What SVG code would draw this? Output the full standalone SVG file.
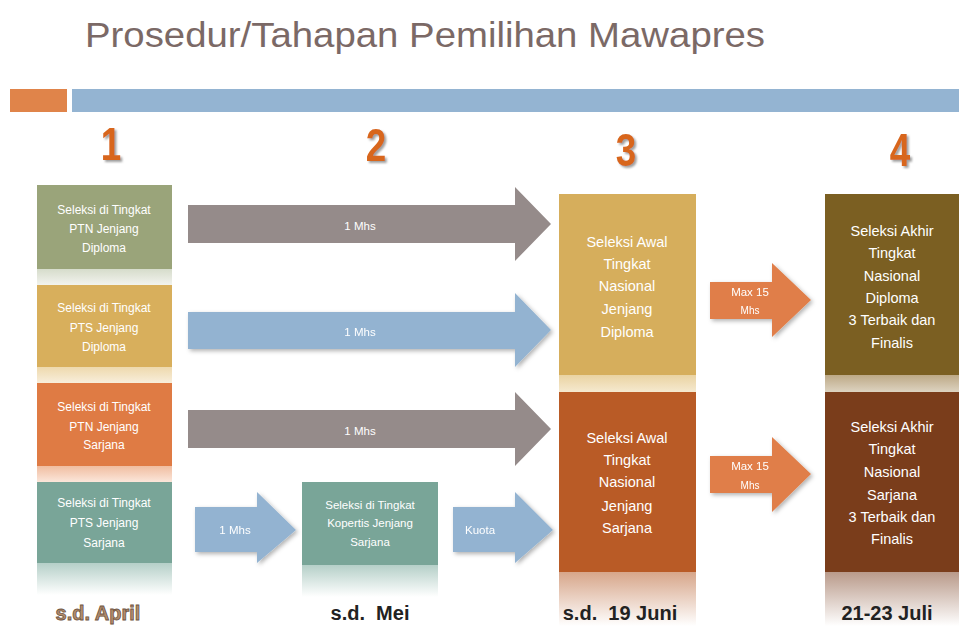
<svg xmlns="http://www.w3.org/2000/svg" width="959" height="626" viewBox="0 0 959 626">
<defs>
<style>
.t{font-family:"Liberation Sans",Arial,sans-serif;fill:#ffffff;text-anchor:middle}
.s{font-size:12px}
.m{font-size:14.5px}
.a{font-size:11.5px}
.num{font-family:"Liberation Sans",Arial,sans-serif;font-weight:bold;font-size:46px;fill:#d8661e;text-anchor:middle}
.date{font-family:"Liberation Sans",Arial,sans-serif;font-weight:bold;font-size:20px;fill:#222;text-anchor:middle}
.gray{fill:#958b8a}
.blue{fill:#93b3d1}
.orng{fill:#e07e48}
</style>
<filter id="sh" x="-10%" y="-10%" width="130%" height="140%">
<feDropShadow dx="2" dy="2" stdDeviation="2" flood-color="#000" flood-opacity="0.3"/>
</filter>
<filter id="ns" x="-20%" y="-20%" width="150%" height="150%">
<feDropShadow dx="2" dy="2" stdDeviation="1" flood-color="#777" flood-opacity="0.7"/>
</filter>
<linearGradient id="rTeal" x1="0" y1="0" x2="0" y2="1"><stop offset="0" stop-color="#b5cfc8"/><stop offset="1" stop-color="#ffffff"/></linearGradient>
<linearGradient id="rRust" x1="0" y1="0" x2="0" y2="1"><stop offset="0" stop-color="#d7a68a"/><stop offset="1" stop-color="#ffffff"/></linearGradient>
<linearGradient id="rBrown" x1="0" y1="0" x2="0" y2="1"><stop offset="0" stop-color="#b99a8a"/><stop offset="1" stop-color="#ffffff"/></linearGradient>
<linearGradient id="sGreen" x1="0" y1="0" x2="0" y2="1"><stop offset="0" stop-color="#d6dccb"/><stop offset="1" stop-color="#f2f3ee"/></linearGradient>
<linearGradient id="sGold" x1="0" y1="0" x2="0" y2="1"><stop offset="0" stop-color="#eed9ad"/><stop offset="1" stop-color="#f8eedb"/></linearGradient>
<linearGradient id="sOrange" x1="0" y1="0" x2="0" y2="1"><stop offset="0" stop-color="#f0bda0"/><stop offset="1" stop-color="#fbe6da"/></linearGradient>
<linearGradient id="sGold3" x1="0" y1="0" x2="0" y2="1"><stop offset="0" stop-color="#ead3a2"/><stop offset="1" stop-color="#f5e9cf"/></linearGradient>
<linearGradient id="sOlive" x1="0" y1="0" x2="0" y2="1"><stop offset="0" stop-color="#bda986"/><stop offset="1" stop-color="#ddd3c1"/></linearGradient>
</defs>
<rect width="959" height="626" fill="#ffffff"/>

<text x="85" y="47" font-family="'Liberation Sans',Arial,sans-serif" font-size="35" fill="#7b6966" textLength="680" lengthAdjust="spacingAndGlyphs">Prosedur/Tahapan Pemilihan Mawapres</text>
<rect x="10" y="89" width="57" height="23" fill="#e0844a"/>
<rect x="72" y="89" width="887" height="23" fill="#94b4d2"/>

<g filter="url(#ns)">
<text class="num" transform="translate(111,160) scale(0.8,1)">1</text>
<text class="num" transform="translate(376,161) scale(0.8,1)">2</text>
<text class="num" transform="translate(626,166) scale(0.8,1)">3</text>
<text class="num" transform="translate(900,166) scale(0.8,1)">4</text>
</g>

<g id="connectors">
<g id="arrow-ptn-diploma">
<polygon class="gray" points="188,205 515,205 515,187 551,224 515,261 515,243 188,243"/>
<text class="t a" x="360" y="230">1 Mhs</text>
</g>
<g id="arrow-pts-diploma" filter="url(#sh)">
<polygon class="blue" points="188,312 515,312 515,293 551,330 515,367 515,349 188,349"/>
<text class="t a" x="360" y="336">1 Mhs</text>
</g>
<g id="arrow-ptn-sarjana">
<polygon class="gray" points="188,410 515,410 515,392 551,429 515,466 515,448 188,448"/>
<text class="t a" x="360" y="435">1 Mhs</text>
</g>
<g id="arrow-pts-kopertis" filter="url(#sh)">
<polygon class="blue" points="195,507 257,507 257,492 296,530 257,563 257,552 195,552"/>
<text class="t a" x="235" y="534">1 Mhs</text>
</g>
<g id="arrow-kuota" filter="url(#sh)">
<polygon class="blue" points="453,507 515,507 515,492 553,530 515,563 515,552 453,552"/>
<text class="t a" x="480" y="534">Kuota</text>
</g>
<g id="arrow-max-diploma" filter="url(#sh)">
<polygon class="orng" points="710,282 772,282 772,263 811,300 772,337 772,319 710,319"/>
<text class="t a" x="750" y="296">Max 15</text>
<text class="t" x="750" y="314" font-size="10">Mhs</text>
</g>
<g id="arrow-max-sarjana" filter="url(#sh)">
<polygon class="orng" points="710,456 772,456 772,437 811,474 772,512 772,493 710,493"/>
<text class="t a" x="750" y="470">Max 15</text>
<text class="t" x="750" y="489" font-size="10">Mhs</text>
</g>
</g>

<g id="node-ptn-diploma">
<rect x="37" y="185" width="135" height="84" fill="#9aa47a"/>
<rect x="37" y="269" width="135" height="16" fill="url(#sGreen)"/>
<text class="t s" x="104" y="214">Seleksi di Tingkat</text>
<text class="t s" x="104" y="233">PTN Jenjang</text>
<text class="t s" x="104" y="252">Diploma</text>
</g>
<g id="node-pts-diploma">
<rect x="37" y="285" width="135" height="82" fill="#d8af5c"/>
<rect x="37" y="367" width="135" height="16" fill="url(#sGold)"/>
<text class="t s" x="104" y="312">Seleksi di Tingkat</text>
<text class="t s" x="104" y="332">PTS Jenjang</text>
<text class="t s" x="104" y="351">Diploma</text>
</g>
<g id="node-ptn-sarjana">
<rect x="37" y="383" width="135" height="83" fill="#df7b44"/>
<rect x="37" y="466" width="135" height="16" fill="url(#sOrange)"/>
<text class="t s" x="104" y="411">Seleksi di Tingkat</text>
<text class="t s" x="104" y="431">PTN Jenjang</text>
<text class="t s" x="104" y="449">Sarjana</text>
</g>
<g id="node-pts-sarjana">
<rect x="37" y="482" width="135" height="81" fill="#79a598"/>
<rect x="37" y="563" width="135" height="32" fill="url(#rTeal)"/>
<text class="t s" x="104" y="507">Seleksi di Tingkat</text>
<text class="t s" x="104" y="527">PTS Jenjang</text>
<text class="t s" x="104" y="547">Sarjana</text>
</g>
<g id="node-kopertis">
<rect x="302" y="482" width="136" height="83" fill="#79a598"/>
<rect x="302" y="565" width="136" height="32" fill="url(#rTeal)"/>
<text class="t" font-size="11.5" x="370" y="509">Seleksi di Tingkat</text>
<text class="t" font-size="11.5" x="370" y="527">Kopertis Jenjang</text>
<text class="t" font-size="11.5" x="370" y="546">Sarjana</text>
</g>
<g id="node-awal-diploma">
<rect x="559" y="194" width="137" height="181" fill="#d6ae5c"/>
<rect x="559" y="375" width="137" height="17" fill="url(#sGold3)"/>
<text class="t m" x="627" y="247">Seleksi Awal</text>
<text class="t m" x="627" y="269">Tingkat</text>
<text class="t m" x="627" y="291">Nasional</text>
<text class="t m" x="627" y="314">Jenjang</text>
<text class="t m" x="627" y="337">Diploma</text>
</g>
<g id="node-awal-sarjana">
<rect x="559" y="392" width="137" height="180" fill="#b95b26"/>
<rect x="559" y="572" width="137" height="54" fill="url(#rRust)"/>
<text class="t m" x="627" y="443">Seleksi Awal</text>
<text class="t m" x="627" y="465">Tingkat</text>
<text class="t m" x="627" y="487">Nasional</text>
<text class="t m" x="627" y="511">Jenjang</text>
<text class="t m" x="627" y="533">Sarjana</text>
</g>
<g id="node-akhir-diploma">
<rect x="825" y="194" width="134" height="181" fill="#7b5f22"/>
<rect x="825" y="375" width="134" height="17" fill="url(#sOlive)"/>
<text class="t m" x="892" y="236">Seleksi Akhir</text>
<text class="t m" x="892" y="258">Tingkat</text>
<text class="t m" x="892" y="281">Nasional</text>
<text class="t m" x="892" y="303">Diploma</text>
<text class="t m" x="892" y="325">3 Terbaik dan</text>
<text class="t m" x="892" y="348">Finalis</text>
</g>
<g id="node-akhir-sarjana">
<rect x="825" y="392" width="134" height="180" fill="#7a3d1b"/>
<rect x="825" y="572" width="134" height="54" fill="url(#rBrown)"/>
<text class="t m" x="892" y="432">Seleksi Akhir</text>
<text class="t m" x="892" y="454">Tingkat</text>
<text class="t m" x="892" y="477">Nasional</text>
<text class="t m" x="892" y="500">Sarjana</text>
<text class="t m" x="892" y="522">3 Terbaik dan</text>
<text class="t m" x="892" y="544">Finalis</text>
</g>

<g id="dates">
<text class="date" x="98" y="620" stroke="#6e5442" stroke-width="0.8" style="fill:#b38d6c">s.d. April</text>
<text class="date" x="370" y="620" xml:space="preserve">s.d.  Mei</text>
<text class="date" x="620" y="620" xml:space="preserve">s.d.  19 Juni</text>
<text class="date" x="887" y="620">21-23 Juli</text>
</g>
</svg>
